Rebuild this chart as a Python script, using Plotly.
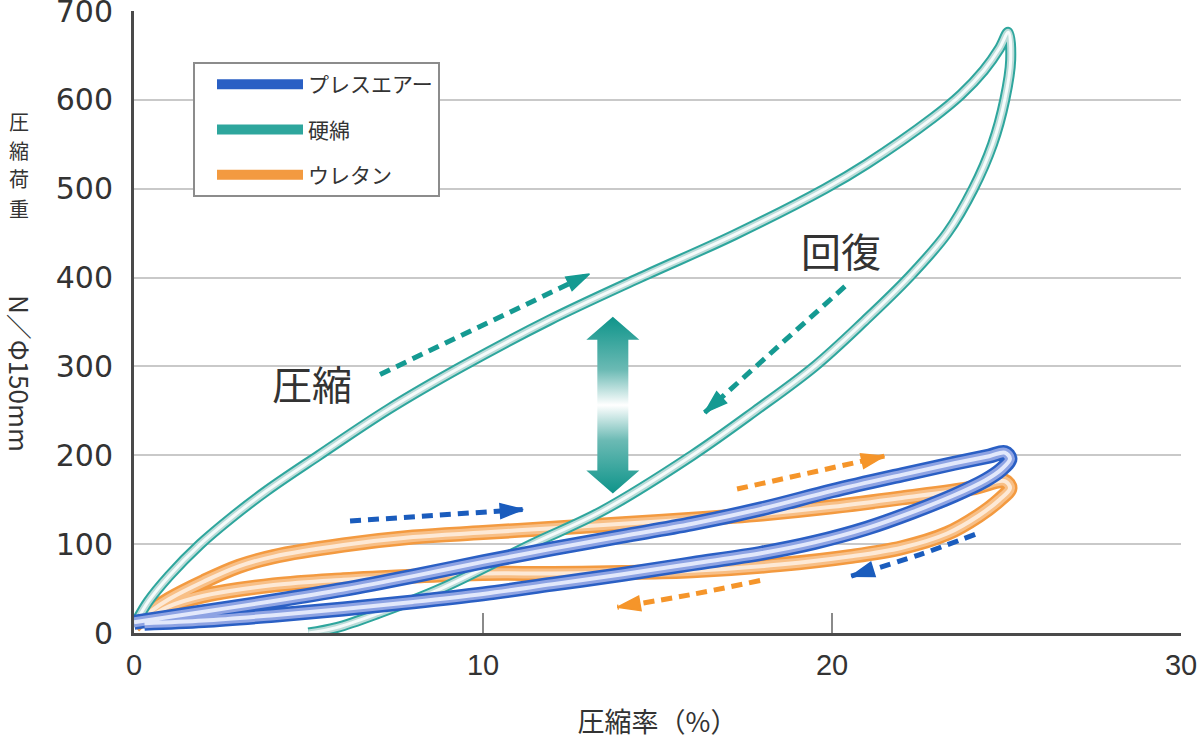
import plotly.graph_objects as go

# ---------------- data ----------------
x_tick_vals = [0, 10, 20, 30]
y_tick_vals = [0, 100, 200, 300, 400, 500, 600, 700]

series_names = ["プレスエアー", "硬綿", "ウレタン"]

# プレスエアー (blue): compression then recovery
press_x = [0, 2, 4, 6, 8, 10, 12, 14, 16, 18, 20, 22, 23.5, 24.5, 24.95,
           25.1, 24.85, 24.4, 23.5, 22.3, 21.0, 19.5, 18.0, 16.0, 14.0, 12.0, 10.0, 8.0, 6.0, 4.0, 2.0, 0.3]
press_y = [12, 24, 36, 49, 64, 80, 95, 109, 123, 140, 160, 178, 191, 199, 203,
           196, 184, 172, 155, 136, 118, 102, 90, 78, 66, 55, 44, 35, 27, 20, 14, 11]

# 硬綿 (teal)
hard_x = [0, 0.4, 1.0, 1.9, 2.8, 3.8, 5.3, 7.3, 9.4, 11.9, 14.5, 17.2, 19.8, 21.0, 22.9, 23.7, 24.35, 24.8, 25.05,
          25.12, 24.95, 24.6, 24.05, 23.3, 22.2, 20.9, 19.5, 17.8, 16.0, 13.4, 11.4, 8.8, 7.0, 5.8, 5.0]
hard_y = [8, 35, 64, 100, 130, 160, 200, 252, 300, 352, 400, 448, 500, 528, 580, 606, 633, 658, 676,
          645, 600, 550, 500, 450, 400, 350, 300, 250, 200, 137, 100, 50, 22, 6, 0]

# ウレタン (orange)
ure_x = [0, 0.5, 1.0, 2.0, 3.0, 4.0, 6.0, 8.0, 10.0, 12.0, 14.0, 16.0, 18.0, 20.0, 22.0, 24.0, 24.95,
         25.1, 24.8, 24.2, 23.3, 22.0, 20.5, 18.5, 16.0, 14.0, 12.0, 10.0, 8.0, 6.0, 4.0, 2.0, 1.0, 0.3]
ure_y = [8, 25, 38, 58, 75, 86, 99, 108, 113, 118, 123, 128, 134, 142, 152, 163, 171,
         163, 150, 132, 112, 96, 86, 77, 70, 68, 67, 67, 64, 60, 54, 42, 30, 14]

# dashed direction arrows (data coordinates)
arr_hard_comp_x = [7.05, 13.05];  arr_hard_comp_y = [291, 404]
arr_hard_rec_x = [20.37, 16.35]; arr_hard_rec_y = [390, 248]
arr_press_comp_x = [6.19, 11.15]; arr_press_comp_y = [126, 139]
arr_ure_comp_x = [17.28, 21.5]; arr_ure_comp_y = [162, 199]
arr_press_rec_x = [24.1, 22.5, 20.55]; arr_press_rec_y = [111, 88, 64]
arr_ure_rec_x = [17.94, 15.93, 13.85]; arr_ure_rec_y = [59, 43, 29]

# gradient double arrow (硬綿 hysteresis)
darrow_cx = 13.72
darrow_top = 356
darrow_bot = 157

# ---------------- figure ----------------
W, H = 1200, 742
ML, MR, MT, MB = 134, 19, 11, 109
PW, PH = W - ML - MR, H - MT - MB


def px_x(px):
    return (px - ML) / PW


def px_y(py):
    return (H - MB - py) / PH


fig = go.Figure()

BLUE = "#2a5fc4"
TEAL = "#2ea69d"
ORANGE = "#f39a40"


def add_tube(x, y, name, layers, rank):
    for i, (w, c) in enumerate(layers):
        fig.add_trace(go.Scatter(
            x=x, y=y, mode="lines", name=name, legendgroup=name,
            showlegend=(i == 0), legendrank=rank,
            line=dict(color=c, width=w, shape="spline", smoothing=1.0),
            hoverinfo="skip"))


add_tube(ure_x, ure_y, series_names[2],
         [(15, ORANGE), (10, "#f8bf86"), (4, "#fde9d6")], 3)
add_tube(hard_x, hard_y, series_names[1],
         [(11, TEAL), (7, "#bcdcd9"), (3, "#f6fbfb")], 2)
add_tube(press_x, press_y, series_names[0],
         [(15, BLUE), (10, "#8ea3e3"), (4, "#e2e8fb")], 1)


def add_arrow(x, y, color):
    n = len(x)
    fig.add_trace(go.Scatter(
        x=x, y=y, mode="lines+markers", showlegend=False, hoverinfo="skip",
        line=dict(color=color, width=5, dash="11px,7px", shape="spline"),
        marker=dict(symbol="arrow", size=[0] * (n - 1) + [24], angleref="previous",
                    color=color, opacity=1, line=dict(width=1.5, color=color))))


add_arrow(arr_hard_comp_x, arr_hard_comp_y, "#159a92")
add_arrow(arr_hard_rec_x, arr_hard_rec_y, "#159a92")
add_arrow(arr_press_comp_x, arr_press_comp_y, "#1a5cbd")
add_arrow(arr_press_rec_x, arr_press_rec_y, "#1a5cbd")
add_arrow(arr_ure_comp_x, arr_ure_comp_y, "#f5952a")
add_arrow(arr_ure_rec_x, arr_ure_rec_y, "#f5952a")

# double arrow polygon built from its parameters
sw = 15.5 / PW * 30      # half shaft width (data units)
hw = 26.5 / PW * 30      # half head width
hh = 23 / PH * 700       # head height
cx, t, b = darrow_cx, darrow_top, darrow_bot
da_x = [cx, cx + hw, cx + sw, cx + sw, cx + hw, cx, cx - hw, cx - sw, cx - sw, cx - hw, cx]
da_y = [t, t - hh, t - hh, b + hh, b + hh, b, b + hh, b + hh, t - hh, t - hh, t]
fig.add_trace(go.Scatter(
    x=da_x, y=da_y, mode="lines", fill="toself", showlegend=False, hoverinfo="skip",
    line=dict(width=0, color="rgba(0,0,0,0)"),
    fillgradient=dict(type="vertical",
                      colorscale=[[0, "#0e948a"], [0.3, "#6bbab4"], [0.5, "#ffffff"],
                                  [0.7, "#6bbab4"], [1, "#0e948a"]])))

JP = "Noto Sans CJK JP"

annotations = [
    dict(x=5.1, y=281, xref="x", yref="y", text="圧縮", showarrow=False,
         font=dict(family=JP, size=40, color="#333")),
    dict(x=20.25, y=431, xref="x", yref="y", text="回復", showarrow=False,
         font=dict(family=JP, size=40, color="#333")),
    dict(x=px_x(21), y=px_y(373), xref="paper", yref="paper", text="N／Φ150mm",
         textangle=90, showarrow=False, font=dict(family=JP, size=26, color="#333"),
         xanchor="center", yanchor="middle"),
]
for ch, py in zip("圧縮荷重", [121, 150, 179, 208]):
    annotations.append(dict(x=px_x(19), y=px_y(py), xref="paper", yref="paper", text=ch,
                            showarrow=False, font=dict(family=JP, size=20, color="#333"),
                            xanchor="center", yanchor="middle"))

fig.update_layout(
    width=W, height=H,
    margin=dict(l=ML, r=MR, t=MT, b=MB, pad=0),
    paper_bgcolor="white", plot_bgcolor="white",
    template="none",
    showlegend=True,
    annotations=annotations,
    legend=dict(x=px_x(193), y=px_y(62), xanchor="left", yanchor="top",
                bgcolor="white", bordercolor="#8c8c8c", borderwidth=2,
                font=dict(family=JP, size=21, color="#333"),
                itemwidth=86, tracegroupgap=15, traceorder="grouped",
                indentation=17),
    xaxis=dict(range=[0, 30], tickvals=x_tick_vals, ticktext=[str(v) for v in x_tick_vals],
               showgrid=False, zeroline=False, showline=True, linecolor="#4a4a4a", linewidth=3,
               ticks="inside", ticklen=20, tickwidth=2, tickcolor="#8a8a8a",
               ticklabelstandoff=4, ticklabeloverflow="allow",
               tickfont=dict(family="Liberation Sans", size=29, color="#333"),
               title=dict(text="圧縮率（%）", standoff=34,
                          font=dict(family=JP, size=27, color="#333"))),
    yaxis=dict(range=[0, 700], tickvals=y_tick_vals, ticktext=[str(v) for v in y_tick_vals],
               showgrid=True, gridcolor="#c9c9c9", gridwidth=2, zeroline=False,
               showline=True, linecolor="#4a4a4a", linewidth=3, ticks="",
               ticklabelstandoff=12, ticklabeloverflow="allow",
               tickfont=dict(family="DejaVu Sans", size=30, color="#333")),
)

fig.write_html("out.html", config={"displayModeBar": False},
               post_script="document.body.style.margin='0px';")
